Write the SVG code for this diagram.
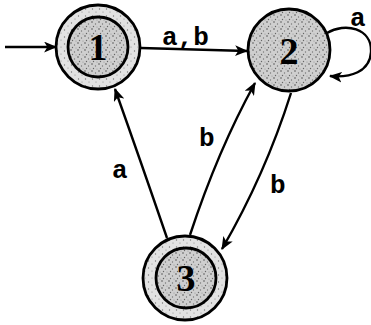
<svg xmlns="http://www.w3.org/2000/svg" width="371" height="325" viewBox="0 0 371 325">
<defs>
<pattern id="stip" width="7" height="7" patternUnits="userSpaceOnUse">
<rect width="7" height="7" fill="#cfcfcf"/>
<circle cx="1" cy="1" r="0.8" fill="#555"/>
<circle cx="4.5" cy="3" r="0.7" fill="#777"/>
<circle cx="2.5" cy="5.5" r="0.7" fill="#666"/>
<circle cx="6" cy="6" r="0.5" fill="#888"/>
</pattern>
<pattern id="stipL" width="7" height="7" patternUnits="userSpaceOnUse">
<rect width="7" height="7" fill="#e2e2e2"/>
<circle cx="1.5" cy="2" r="0.7" fill="#777"/>
<circle cx="5" cy="5" r="0.6" fill="#888"/>
</pattern>
<marker id="ah" viewBox="0 0 12 10" refX="11" refY="5" markerWidth="13" markerHeight="11" markerUnits="userSpaceOnUse" orient="auto">
<path d="M0,0 L12,5 L0,10 L3,5 Z" fill="#000"/>
</marker>
</defs>
<style>
.edge{fill:none;stroke:#000;stroke-width:2.4;marker-end:url(#ah)}
.ring{fill:url(#stipL);stroke:#000;stroke-width:2.8}
.core{fill:url(#stip);stroke:#000;stroke-width:2.8}
.num{font-family:"Liberation Serif",serif;font-weight:bold;font-size:38px;text-anchor:middle}
.lab{font-family:"Liberation Mono",monospace;font-weight:bold;font-size:26px}
</style>
<g id="edges">
<path class="edge" d="M5,47 L56,47"/>
<path class="edge" d="M141,48 L247,51"/>
<path class="edge" d="M327,33 C345,22 372,28 371,52 C370,72 350,78 330,76"/>
<path class="edge" d="M167,238 Q142,165 115,89"/>
<path class="edge" d="M190,235 Q218,150 255,83"/>
<path class="edge" d="M291,93 Q265,175 222,249"/>
</g>
<g id="node1">
<circle class="ring" cx="98" cy="47" r="42"/>
<circle class="core" cx="98" cy="47" r="30"/>
<text class="num" x="98" y="60">1</text>
</g>
<g id="node2">
<circle class="core" cx="289" cy="50" r="41"/>
<text class="num" x="289" y="64">2</text>
</g>
<g id="node3">
<circle class="ring" cx="185" cy="278" r="42"/>
<circle class="core" cx="186" cy="278" r="30"/>
<text class="num" x="186" y="291">3</text>
</g>
<g id="labels">
<text class="lab" x="162" y="45">a,b</text>
<text class="lab" x="350" y="26">a</text>
<text class="lab" x="112" y="178">a</text>
<text class="lab" x="199" y="146">b</text>
<text class="lab" x="270" y="193">b</text>
</g>
</svg>
